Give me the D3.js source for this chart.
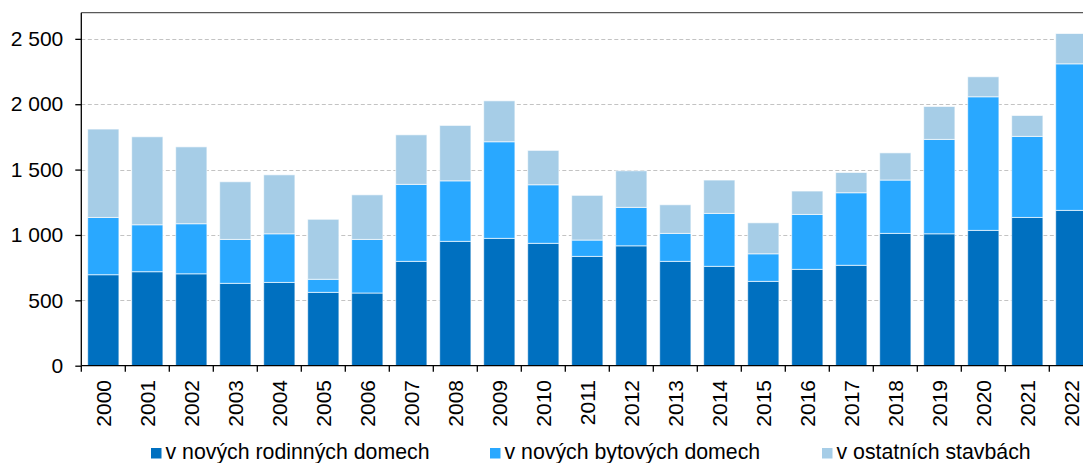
<!DOCTYPE html>
<html>
<head>
<meta charset="utf-8">
<script src="https://cdn.jsdelivr.net/npm/d3@7"></script>
<style>
  body { margin: 0; background: #fff; }
  svg { display: block; font-family: "Liberation Sans", Arial, sans-serif; }
</style>
</head>
<body>
<script>
// years and values (dokončené byty)
var years = ["2000","2001","2002","2003","2004","2005","2006","2007","2008","2009","2010","2011",
             "2012","2013","2014","2015","2016","2017","2018","2019","2020","2021","2022"];
var rodinne = [696, 719, 703, 630, 637, 561, 556, 798, 951, 974, 936, 836,
               917, 798, 760, 645, 737, 768, 1012, 1009, 1035, 1134, 1188];
var bytove  = [438, 359, 383, 336, 372, 100, 410, 589, 463, 739, 448, 125,
               294, 214, 405, 211, 420, 555, 408, 722, 1022, 620, 1121];
var ostatni = [676, 673, 588, 441, 451, 459, 341, 379, 424, 313, 263, 342,
               280, 219, 255, 237, 179, 155, 208, 252, 153, 160, 232];
var seriesNames = ["v nových rodinných domech", "v nových bytových domech", "v ostatních stavbách"];
var seriesColors = ["#0070c0", "#29a8ff", "#a6cde7"];
var yTicks = [0, 500, 1000, 1500, 2000, 2500];

window.onload = drawChart();

function drawChart(){

    var width = 1083,
        height = 463;
    var left = 81.3, right = 1093.3, top = 12.7, bottom = 365.7;

    var svg = d3.select("body")
        .append("svg")
        .attr("width", width)
        .attr("height", height);

    var x = d3.scaleBand()
        .domain(years)
        .range([left, right])
        .paddingInner(0.29)
        .paddingOuter(0.145);

    var y = d3.scaleLinear()
        .domain([0, 2700])
        .range([bottom, top]);

    var locale = d3.formatLocale({decimal: ",", thousands: "\u00a0", grouping: [3], currency: ["", ""]});
    var fmt = locale.format(",");

    //gridlines
    svg.append("g")
        .selectAll("line")
        .data(yTicks.filter(function(d){ return d > 0; }))
        .enter()
        .append("line")
        .attr("x1", left)
        .attr("x2", right)
        .attr("y1", function(d){ return Math.round(y(d)) + 0.5; })
        .attr("y2", function(d){ return Math.round(y(d)) + 0.5; })
        .attr("stroke", "#c3c3c3")
        .attr("stroke-width", 1.2)
        .attr("stroke-dasharray", "4,2.5");

    //stacked data
    var table = years.map(function(yr, i){
        return {year: yr, s0: rodinne[i], s1: bytove[i], s2: ostatni[i]};
    });
    var stack = d3.stack().keys(["s0", "s1", "s2"]);
    var layers = stack(table);

    svg.append("g")
        .selectAll("g")
        .data(layers)
        .enter()
        .append("g")
        .attr("fill", function(d, i){ return seriesColors[i]; })
        .selectAll("rect")
        .data(function(d){ return d; })
        .enter()
        .append("rect")
        .attr("x", function(d){ return x(d.data.year); })
        .attr("width", x.bandwidth())
        .attr("y", function(d){ return y(d[1]); })
        .attr("height", function(d){ return y(d[0]) - y(d[1]); })
        .attr("stroke", "rgba(255,255,255,0.65)")
        .attr("stroke-width", 1);

    //top frame line
    svg.append("line")
        .attr("x1", left)
        .attr("x2", right)
        .attr("y1", top)
        .attr("y2", top)
        .attr("stroke", "#595959")
        .attr("stroke-width", 1.3);

    //y axis
    var yAxis = svg.append("g")
        .attr("transform", "translate(" + left + ",0)")
        .call(d3.axisLeft(y)
            .tickValues(yTicks)
            .tickFormat(fmt)
            .tickSize(6)
            .tickPadding(12));
    yAxis.select(".domain")
        .attr("d", "M0," + top + "V" + bottom)
        .attr("stroke", "#000")
        .attr("stroke-width", 1.3);
    yAxis.selectAll(".tick line").attr("stroke", "#000").attr("stroke-width", 1.3);
    yAxis.selectAll("text")
        .attr("font-size", "21px")
        .attr("fill", "#000")
        .attr("font-family", "Liberation Sans, Arial, sans-serif");

    //x axis baseline and category boundary ticks
    svg.append("line")
        .attr("x1", left)
        .attr("x2", right)
        .attr("y1", bottom)
        .attr("y2", bottom)
        .attr("stroke", "#000")
        .attr("stroke-width", 1.3);

    var bounds = d3.range(years.length + 1).map(function(i){ return left + i * x.step(); });
    svg.append("g")
        .selectAll("line")
        .data(bounds)
        .enter()
        .append("line")
        .attr("x1", function(d){ return d; })
        .attr("x2", function(d){ return d; })
        .attr("y1", bottom)
        .attr("y2", bottom + 6)
        .attr("stroke", "#000")
        .attr("stroke-width", 1.3);

    //year labels, rotated
    svg.append("g")
        .selectAll("text")
        .data(years)
        .enter()
        .append("text")
        .attr("transform", function(d){
            return "translate(" + (x(d) + x.bandwidth() / 2 + 8) + "," + 380 + ") rotate(-90)";
        })
        .attr("text-anchor", "end")
        .attr("font-size", "21px")
        .attr("fill", "#000")
        .text(function(d){ return d; });

    //legend
    var legendX = [151, 490, 822];
    var legend = svg.append("g")
        .selectAll("g")
        .data(seriesNames)
        .enter()
        .append("g")
        .attr("transform", function(d, i){ return "translate(" + legendX[i] + ",448)"; });
    legend.append("rect")
        .attr("width", 10.5)
        .attr("height", 10.5)
        .attr("fill", function(d, i){ return seriesColors[i]; });
    legend.append("text")
        .attr("x", 14.5)
        .attr("y", 11)
        .attr("font-size", "21.3px")
        .attr("fill", "#000")
        .text(function(d){ return d; });
};
</script>
</body>
</html>
